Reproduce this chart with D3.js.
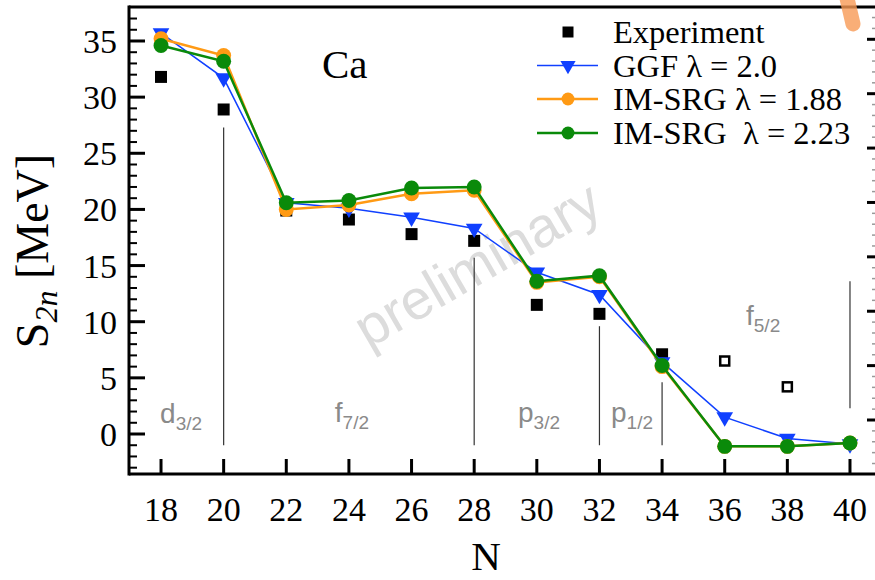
<!DOCTYPE html>
<html><head><meta charset="utf-8">
<script src="https://cdn.jsdelivr.net/npm/d3@7"></script>
<style>body{margin:0;background:#fff}svg{display:block}</style>
</head><body>
<svg id="c" width="875" height="580"></svg>
<script>
const N = [18,20,22,24,26,28,30,32,34,36,38,40];
const expN = [18,20,22,24,26,28,30,32,34];
const expVal = [31.8,28.9,19.9,19.1,17.8,17.2,11.5,10.7,7.1];
const extrapN = [36,38];
const extrapVal = [6.5,4.2];
const ggf = [35.7,31.7,20.6,20.1,19.3,18.3,14.4,12.4,6.4,1.5,-0.4,-0.9];
const imsrg188 = [35.2,33.7,20.0,20.4,21.4,21.7,13.5,14.0,6.0,-1.1,-1.1,-0.8];
const imsrg223 = [34.6,33.2,20.6,20.8,21.9,22.0,13.6,14.1,6.1,-1.1,-1.1,-0.8];
const xTicks = [18,20,22,24,26,28,30,32,34,36,38,40];
const yTicks = [0,5,10,15,20,25,30,35];
const shellN = [20,28,32,34,40];
const shellTop = [27.3,15.7,9.6,4.6,13.6];
const shellBottom = [-1,-1,-1,-1,2.3];
const orbMain = ["d","f","p","p","f"];
const orbSub = ["3/2","7/2","3/2","1/2","5/2"];
const orbN = [17.97,23.55,29.4,32.37,36.68];
const orbY = [1.0,1.1,1.1,1.1,9.7];
const legendLabels = ["Experiment","GGF \u03bb = 2.0","IM-SRG \u03bb = 1.88","IM-SRG  \u03bb = 2.23"];

const svg = d3.select("#c");
const x = d3.scaleLinear().domain([17,41]).range([129.7,881.3]);
const y = d3.scaleLinear().domain([-3.5,38]).range([473.3,7.3]);
const yR = d3.scaleLinear().domain([0,35]).range([420,39.3]);
const serif = "'Liberation Serif','Times New Roman',serif";
const sans = "'Liberation Sans',Arial,sans-serif";
const blue="#1040ff", orange="#ff9a14", green="#0a8a0a";

// watermark
svg.append("text").attr("transform","translate(477,264) rotate(-30)")
  .attr("text-anchor","middle").attr("dominant-baseline","central")
  .attr("font-family",sans).attr("font-size",56).attr("fill","#dcdcdc").text("preliminary");

// shell lines
svg.append("g").selectAll("line").data(shellN).join("line")
  .attr("x1",d=>x(d)).attr("x2",d=>x(d))
  .attr("y1",(d,i)=>y(shellTop[i])).attr("y2",(d,i)=>y(shellBottom[i]))
  .attr("stroke","#333").attr("stroke-width",1.2);

// orbital labels
const ol = svg.append("g").selectAll("text").data(orbMain).join("text")
  .attr("x",(d,i)=>x(orbN[i])).attr("y",(d,i)=>y(orbY[i]))
  .attr("font-family",sans).attr("font-size",28).attr("fill","#8a8a8a");
ol.append("tspan").text(d=>d);
ol.append("tspan").attr("font-size",19).attr("dy",7).text((d,i)=>orbSub[i]);

// axes
const gx = svg.append("g").attr("transform","translate(0,474)");
gx.selectAll("line").data(xTicks).join("line")
  .attr("x1",d=>x(d)).attr("x2",d=>x(d)).attr("y1",0).attr("y2",-15)
  .attr("stroke","#000").attr("stroke-width",3);
gx.selectAll("text").data(xTicks).join("text")
  .attr("x",d=>x(d)).attr("y",47).attr("text-anchor","middle")
  .attr("font-family",serif).attr("font-size",34).text(d=>d);

const minorY = d3.range(-3,38);
const gy = svg.append("g").attr("transform","translate(129,0)");
gy.selectAll("line.mi").data(minorY.filter(v=>v%5!==0)).join("line").attr("class","mi")
  .attr("x1",0).attr("x2",8).attr("y1",d=>y(d)).attr("y2",d=>y(d))
  .attr("stroke","#000").attr("stroke-width",2);
gy.selectAll("line.ma").data(yTicks).join("line").attr("class","ma")
  .attr("x1",0).attr("x2",16).attr("y1",d=>y(d)).attr("y2",d=>y(d))
  .attr("stroke","#000").attr("stroke-width",3);
gy.selectAll("text").data(yTicks).join("text")
  .attr("x",-12).attr("y",d=>y(d)+12).attr("text-anchor","end")
  .attr("font-family",serif).attr("font-size",34).text(d=>d);

// right side ticks
const gr = svg.append("g");
gr.selectAll("line.mi").data(d3.range(-4,39).filter(v=>v%5!==0 && yR(v)>8 && yR(v)<472)).join("line").attr("class","mi")
  .attr("x1",872).attr("x2",875).attr("y1",d=>yR(d)).attr("y2",d=>yR(d))
  .attr("stroke","#999").attr("stroke-width",1.5);
gr.selectAll("line.ma").data(yTicks).join("line").attr("class","ma")
  .attr("x1",867).attr("x2",875).attr("y1",d=>yR(d)).attr("y2",d=>yR(d))
  .attr("stroke","#000").attr("stroke-width",3);

// frame
svg.append("line").attr("x1",129).attr("x2",875).attr("y1",474).attr("y2",474).attr("stroke","#000").attr("stroke-width",3);
svg.append("line").attr("x1",129).attr("x2",875).attr("y1",7).attr("y2",7).attr("stroke","#000").attr("stroke-width",3);
svg.append("line").attr("x1",129).attr("x2",129).attr("y1",5.5).attr("y2",475.5).attr("stroke","#000").attr("stroke-width",3);

// axis titles
svg.append("text").attr("x",486).attr("y",570).attr("text-anchor","middle")
  .attr("font-family",serif).attr("font-size",41).text("N");
const yl = svg.append("text").attr("transform","translate(48,251) rotate(-90)")
  .attr("text-anchor","middle").attr("font-family",serif).attr("font-size",46);
yl.append("tspan").text("S");
yl.append("tspan").attr("font-size",32).attr("font-style","italic").attr("dy",9).text("2n");
yl.append("tspan").attr("dy",-9).text(" [MeV]");

// Ca
svg.append("text").attr("x",322).attr("y",78).attr("font-family",serif).attr("font-size",41).text("Ca");

// data
const sq = d3.symbol().type(d3.symbolSquare).size(144);
svg.append("g").selectAll("path").data(expN).join("path")
  .attr("transform",(d,i)=>`translate(${x(d)},${y(expVal[i])})`).attr("d",sq).attr("fill","#000");
svg.append("g").selectAll("rect").data(extrapN).join("rect")
  .attr("x",d=>x(d)-4.5).attr("y",(d,i)=>y(extrapVal[i])-4.5).attr("width",9).attr("height",9)
  .attr("fill","#fff").attr("stroke","#000").attr("stroke-width",2.5);

const line = vals => d3.line().x((d,i)=>x(N[i])).y(d=>y(d))(vals);
function series(vals,color,w,sym,size,rot){
  svg.append("path").attr("d",line(vals)).attr("fill","none").attr("stroke",color).attr("stroke-width",w);
  svg.append("g").selectAll("path").data(vals).join("path")
    .attr("transform",(d,i)=>`translate(${x(N[i])},${y(d)}) rotate(${rot})`)
    .attr("d",d3.symbol().type(sym).size(size)).attr("fill",color);
}
series(ggf,blue,1.5,d3.symbolTriangle,120,180);
series(imsrg188,orange,2.5,d3.symbolCircle,175,0);
series(imsrg223,green,2.5,d3.symbolCircle,175,0);

// legend
const lg = svg.append("g");
const ly = [32,65.5,99,133];
lg.append("path").attr("transform",`translate(568,${ly[0]})`).attr("d",d3.symbol().type(d3.symbolSquare).size(121)).attr("fill","#000");
const lcol=[blue,orange,green], lsym=[d3.symbolTriangle,d3.symbolCircle,d3.symbolCircle], lsz=[100,130,130], lrot=[180,0,0], lw=[1.5,2.5,2.5];
[1,2,3].forEach((k,j)=>{
  lg.append("line").attr("x1",537).attr("x2",598).attr("y1",ly[k]).attr("y2",ly[k]).attr("stroke",lcol[j]).attr("stroke-width",lw[j]);
  lg.append("path").attr("transform",`translate(568,${ly[k]}) rotate(${lrot[j]})`).attr("d",d3.symbol().type(lsym[j]).size(lsz[j])).attr("fill",lcol[j]);
});
lg.selectAll("text").data(legendLabels).join("text")
  .attr("x",613).attr("y",(d,i)=>ly[i]+11).attr("font-family",serif).attr("font-size",32.5)
  .attr("xml:space","preserve").style("white-space","pre").text(d=>d);

// orange pen mark
svg.append("path").attr("d","M846,-6 L853,24").attr("stroke","#f79a55").attr("stroke-opacity",0.8)
  .attr("stroke-width",15).attr("stroke-linecap","round").attr("fill","none");
</script>
</body></html>
